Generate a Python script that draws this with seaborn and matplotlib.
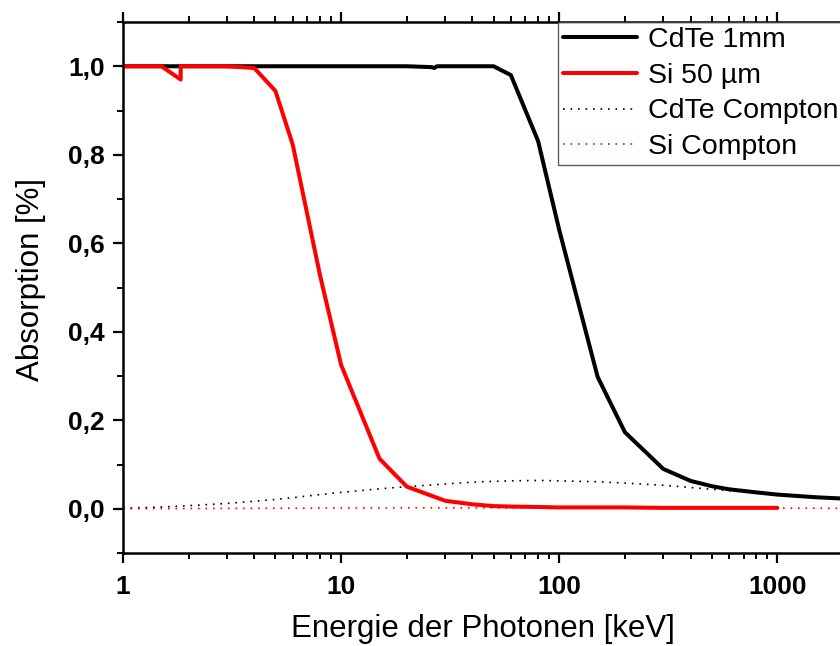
import numpy as np
import pandas as pd
import matplotlib
matplotlib.use("Agg")
import matplotlib.pyplot as plt
import seaborn as sns
from matplotlib.ticker import FixedLocator, MultipleLocator, FuncFormatter, LogLocator, NullFormatter

# ---- data ----
cdte_energy = [1, 1.5, 2, 3, 4, 5, 6, 8, 10, 15, 20, 26.0, 26.7, 27.5, 30, 40, 50, 60, 80, 100,
               150, 200, 300, 400, 500, 600, 800, 1000, 1500, 2000]
cdte_abs = [1.0, 1.0, 1.0, 1.0, 1.0, 1.0, 1.0, 1.0, 1.0, 1.0, 1.0, 0.998, 0.996, 1.0, 1.0, 1.0, 1.0, 0.980, 0.831, 0.630,
            0.298, 0.173, 0.090, 0.063, 0.051, 0.044, 0.037, 0.032, 0.026, 0.023]

si_energy = [1, 1.5, 1.838, 1.839, 2, 3, 4, 5, 6, 8, 10, 15, 20, 30, 40, 50, 60, 80, 100,
             150, 200, 300, 400, 500, 600, 800, 1000]
si_abs = [1.0, 1.0, 0.970, 1.0, 1.0, 1.0, 0.996, 0.944, 0.823, 0.528, 0.325, 0.113, 0.050, 0.018, 0.010, 0.006, 0.005, 0.004, 0.003,
          0.003, 0.003, 0.002, 0.002, 0.002, 0.002, 0.002, 0.002]

compton_energy = [1, 1.5, 2, 3, 4, 5, 6, 8, 10, 15, 20, 30, 40, 50, 60, 80, 100,
                  150, 200, 300, 400, 500, 600, 800, 1000, 1500, 2000]
cdte_compton = [0.001, 0.004, 0.007, 0.012, 0.017, 0.021, 0.025, 0.032, 0.037, 0.045, 0.050, 0.056, 0.060, 0.062, 0.063, 0.064, 0.063,
                0.061, 0.058, 0.053, 0.048, 0.044, 0.041, 0.036, 0.032, 0.026, 0.023]
si_compton = [0.0, 0.0003, 0.0005, 0.0008, 0.001, 0.0012, 0.0013, 0.0015, 0.0017, 0.002, 0.002, 0.002, 0.002, 0.002, 0.002, 0.002, 0.002,
              0.002, 0.002, 0.002, 0.0018, 0.0017, 0.0016, 0.0015, 0.0014, 0.0012, 0.001]

labels = ["CdTe 1mm", "Si 50 µm", "CdTe Compton", "Si Compton"]
x_ticks = [1, 10, 100, 1000]
y_ticks = [0.0, 0.2, 0.4, 0.6, 0.8, 1.0]

# ---- style ----
sns.set_style("ticks")
plt.rcParams['font.family'] = ['Liberation Sans', 'DejaVu Sans']
plt.rcParams.update({"text.color": "black", "axes.labelcolor": "black",
                     "xtick.color": "black", "ytick.color": "black"})

fig = plt.figure(figsize=(8.4, 6.46), dpi=100)
ax = fig.add_axes([123 / 840, 1 - 553 / 646, 720 / 840, (553 - 22) / 646])

dot = (0, (1, 3.5))
sns.lineplot(x=cdte_energy, y=cdte_abs, ax=ax, color="black", lw=2.9, label=labels[0], sort=False)
sns.lineplot(x=si_energy, y=si_abs, ax=ax, color="#ff0000", lw=2.9, label=labels[1], sort=False)
sns.lineplot(x=compton_energy, y=cdte_compton, ax=ax, color="black", lw=1.2, linestyle=dot, label=labels[2], sort=False, zorder=1.5)
sns.lineplot(x=compton_energy, y=si_compton, ax=ax, color="#ff0000", lw=1.2, linestyle=dot, label=labels[3], sort=False, zorder=1.5)

ax.set_xscale("log")
ax.set_xlim(1, 2000)
ax.set_ylim(-0.1, 1.1)

ax.xaxis.set_major_locator(FixedLocator(x_ticks))
ax.xaxis.set_major_formatter(FuncFormatter(lambda v, p: f"{v:g}"))
ax.xaxis.set_minor_locator(LogLocator(base=10, subs=np.arange(2, 10)))
ax.xaxis.set_minor_formatter(NullFormatter())
ax.yaxis.set_major_locator(FixedLocator(y_ticks))
ax.yaxis.set_major_formatter(FuncFormatter(lambda v, p: f"{v:.1f}".replace(".", ",")))
ax.yaxis.set_minor_locator(MultipleLocator(0.1))

for s in ["left", "bottom", "top", "right"]:
    ax.spines[s].set_linewidth(1.8)
    ax.spines[s].set_color("black")

ax.tick_params(which="major", direction="out", length=7, width=1.6, labelsize=19, color="black",
               labelcolor="black", top=True, right=False, pad=6)
ax.tick_params(axis="x", which="major", pad=9)
ax.tick_params(which="minor", direction="out", length=4, width=1.4, color="black", top=True, right=False)
for lab in ax.get_xticklabels() + ax.get_yticklabels():
    lab.set_fontweight("bold")

ax.set_xlabel("Energie der Photonen [keV]", fontsize=22.5, labelpad=11, color="black")
ax.set_ylabel("Absorption [%]", fontsize=22.5, labelpad=16, color="black")
ax.yaxis.label.set_y(0.516)

leg = ax.legend(loc="upper right", borderaxespad=0, fontsize=20.5, frameon=True, fancybox=False,
                handlelength=2.6, handletextpad=0.4, labelspacing=0.35, borderpad=0.16)
leg.get_frame().set_edgecolor("#333333")
leg.get_frame().set_linewidth(1.0)
for t in leg.get_texts():
    t.set_color("black")

fig.savefig("out.png", dpi=100)
